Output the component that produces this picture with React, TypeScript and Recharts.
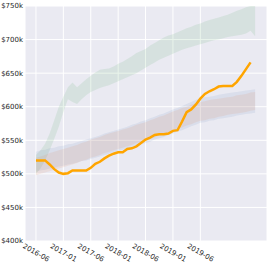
import React from "react";
import { ComposedChart, Area, Line, XAxis, YAxis, CartesianGrid } from "recharts";

const months = Array.from({ length: 49 }, (_, i) => i);
const tickMonths = [0, 6, 12, 18, 24, 30, 36];
const tickLabels = ["2016-06", "2017-01", "2017-06", "2018-01", "2018-06", "2019-01", "2019-06"];
const yTicks = [400, 450, 500, 550, 600, 650, 700, 750];

const orange = [520,520,520,514,507,502,500,501,505,505,505,505,509,515,518,523,527,530,532,532,537,538,541,546,551,554,558,559,559,560,564,565,578,592,596,603,612,619,623,626,630,631,631,631,637,646,656,666];

const greenLow = [500,508,520,535,552,570,592,611,607,604,611,617,622,625,628,630,632,635,638,641,644,647,650,654,658,662,666,670,673,676,679,682,685,687,689,691,693,695,697,699,700,702,704,705,706,707,709,713,705];
const greenHigh = [528,535,545,560,580,600,615,629,636,629,635,641,646,651,655,656,657,660,664,667,671,675,680,683,686,691,695,699,703,706,708,711,714,717,719,722,724,727,729,731,733,735,737,740,743,745,748,750,750];

const tanLow = [498,500,502,504,506,508,510,512,514,516,519,521,524,526,528,531,533,535,537,539,541,543,546,548,550,552,554,557,559,562,564,567,569,572,574,577,579,580,582,583,585,586,588,589,590,591,592,594,595];
const tanHigh = [524,526,528,531,533,535,537,539,541,543,546,548,551,553,555,558,560,562,564,566,568,570,573,575,577,580,582,585,587,590,593,595,598,600,603,605,607,608,610,611,612,613,614,615,617,618,619,621,622];

const blueLow = [503,505,506,508,509,511,512,514,515,517,519,520,522,524,526,528,530,532,534,536,538,540,542,544,546,548,551,553,555,558,560,563,565,568,571,573,576,577,579,580,582,583,584,585,587,588,589,590,591];
const blueHigh = [533,535,536,538,539,541,542,544,545,547,549,551,553,555,557,560,562,564,566,568,570,573,575,578,580,583,585,588,590,593,596,598,601,604,607,610,613,614,615,616,618,619,620,621,622,623,624,625,626];

const data = months.map((m, i) => ({
  m,
  orange: i < orange.length ? orange[i] : undefined,
  green: [greenLow[i], greenHigh[i]],
  blue: [blueLow[i], blueHigh[i]],
  tan: [tanLow[i], tanHigh[i]],
}));

const FONT = "'DejaVu Sans', sans-serif";

const XTick = (props: any) => {
  const { x, y, payload } = props;
  const idx = tickMonths.indexOf(payload.value);
  const label = idx >= 0 ? tickLabels[idx] : "";
  const cy = y + 12;
  return (
    <text
      x={x}
      y={cy}
      transform={`rotate(30, ${x}, ${cy})`}
      textAnchor="middle"
      dominantBaseline="central"
      fontFamily={FONT}
      fontSize={7}
      fill="#262626"
    >
      {label}
    </text>
  );
};

export default function App() {
  return (
    <div style={{ position: "absolute", left: 0, top: 0, width: 270, height: 266, background: "#fff" }}>
      <ComposedChart
        width={270}
        height={266}
        data={data}
        margin={{ top: 6, right: 3, bottom: 0, left: 0 }}
      >
        <CartesianGrid fill="#EAEAF2" stroke="#ffffff" strokeWidth={1} />
        <XAxis
          dataKey="m"
          type="number"
          domain={[-2.4, 50.6]}
          ticks={tickMonths}
          allowDataOverflow
          axisLine={false}
          tickLine={false}
          tickSize={0}
          tickMargin={0}
          height={25}
          interval={0}
          tick={<XTick />}
        />
        <YAxis
          type="number"
          domain={[400, 750]}
          ticks={yTicks}
          allowDataOverflow
          axisLine={false}
          tickLine={false}
          tickSize={0}
          tickMargin={2}
          width={25}
          interval={0}
          tickFormatter={(v: number) => `$${v}k`}
          tick={{ fontFamily: FONT, fontSize: 7, fill: "#262626" }}
        />
        <Area dataKey="green" stroke="none" fill="#55A868" fillOpacity={0.13} isAnimationActive={false} />
        <Area dataKey="blue" stroke="none" fill="#4C72B0" fillOpacity={0.1} isAnimationActive={false} />
        <Area dataKey="tan" stroke="none" fill="#DD8452" fillOpacity={0.13} isAnimationActive={false} />
        <Line
          dataKey="orange"
          stroke="#FFA500"
          strokeWidth={2.5}
          dot={false}
          activeDot={false}
          isAnimationActive={false}
          connectNulls={false}
        />
      </ComposedChart>
    </div>
  );
}
